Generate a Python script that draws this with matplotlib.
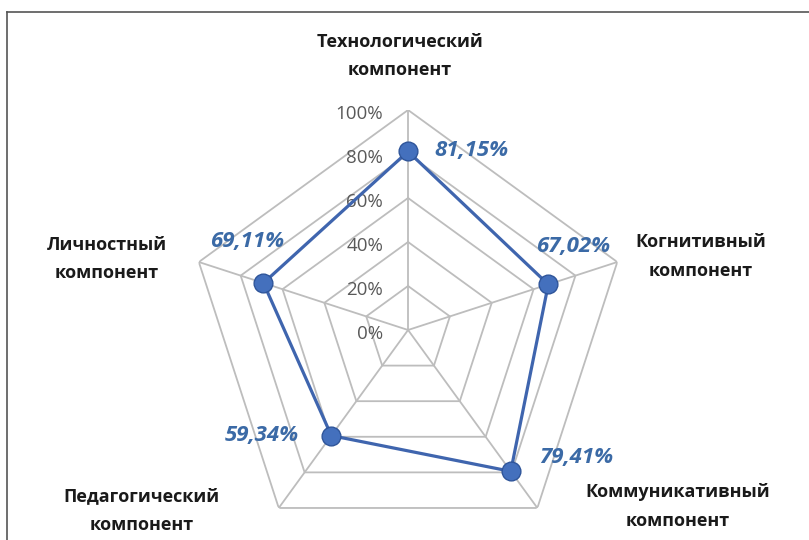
import numpy as np
import matplotlib.pyplot as plt
from matplotlib.lines import Line2D

# category labels and values (in %)
categories = ["Технологический\nкомпонент", "Когнитивный\nкомпонент",
              "Коммуникативный\nкомпонент", "Педагогический\nкомпонент",
              "Личностный\nкомпонент"]
values = [81.15, 67.02, 79.41, 59.34, 69.11]
value_labels = ["81,15%", "67,02%", "79,41%", "59,34%", "69,11%"]
ticks = [0, 20, 40, 60, 80, 100]
tick_labels = ["0%", "20%", "40%", "60%", "80%", "100%"]

# offsets (points) for data labels and category labels
val_offsets = [(46, 1), (18, 27), (47, 10), (-50, 0), (-12, 30)]
cat_offsets = [(-6, 39), (60, 4), (101, 1), (-99, -2), (-66, 2)]

plt.rcParams['font.family'] = ['Open Sans', 'DejaVu Sans']

fig = plt.figure(figsize=(8.09, 5.40), dpi=100)
ax = fig.add_axes([0.2324, -0.0185, 0.544, 0.8148], projection='polar')
ax.set_theta_offset(np.pi / 2)
ax.set_theta_direction(-1)
ax.set_ylim(0, 100)
ax.grid(False)
ax.spines['polar'].set_visible(False)
ax.set_xticks([])
ax.set_yticks([])
ax.patch.set_alpha(0)

n = len(categories)
angles = np.arange(n) * 2 * np.pi / n
closed = np.append(angles, angles[0])

grid_col = '#bdbdbd'
for t in ticks[1:]:
    ax.plot(closed, [t] * (n + 1), color=grid_col, lw=1.3, zorder=1)
for a in angles:
    ax.plot([a, a], [0, 100], color=grid_col, lw=1.3, zorder=1)

# radial tick labels
for t, lab in zip(ticks, tick_labels):
    ax.annotate(lab, (0, t), xytext=(-18, -3), textcoords='offset points',
                ha='right', va='center', fontsize=13.5, color='#595959', zorder=2)

line_col = '#3f65ae'
vals = np.append(values, values[0])
ax.plot(closed, vals, color=line_col, lw=2.3, zorder=3)
ax.plot(angles, values, 'o', color='#4470bd', markeredgecolor='#2f559a',
        markeredgewidth=1, markersize=13.5, zorder=4)

for a, v, lab, off in zip(angles, values, value_labels, val_offsets):
    ax.annotate(lab, (a, v), xytext=off, textcoords='offset points',
                ha='center', va='center', fontsize=16, fontweight='bold',
                fontstyle='italic', color='#3b6aa6', zorder=5)

for a, lab, off in zip(angles, categories, cat_offsets):
    ax.annotate(lab, (a, 100), xytext=off, textcoords='offset points',
                ha='center', va='center', fontsize=13, fontweight='bold',
                color='#1a1a1a', linespacing=1.75, annotation_clip=False)

# frame of the chart area (left and top edges visible)
fig.add_artist(Line2D([7 / 809, 7 / 809], [0, 1 - 12 / 540], color='#555555', lw=1.2))
fig.add_artist(Line2D([7 / 809, 1], [1 - 12 / 540, 1 - 12 / 540], color='#555555', lw=1.2))

plt.savefig('out.png', dpi=100)
